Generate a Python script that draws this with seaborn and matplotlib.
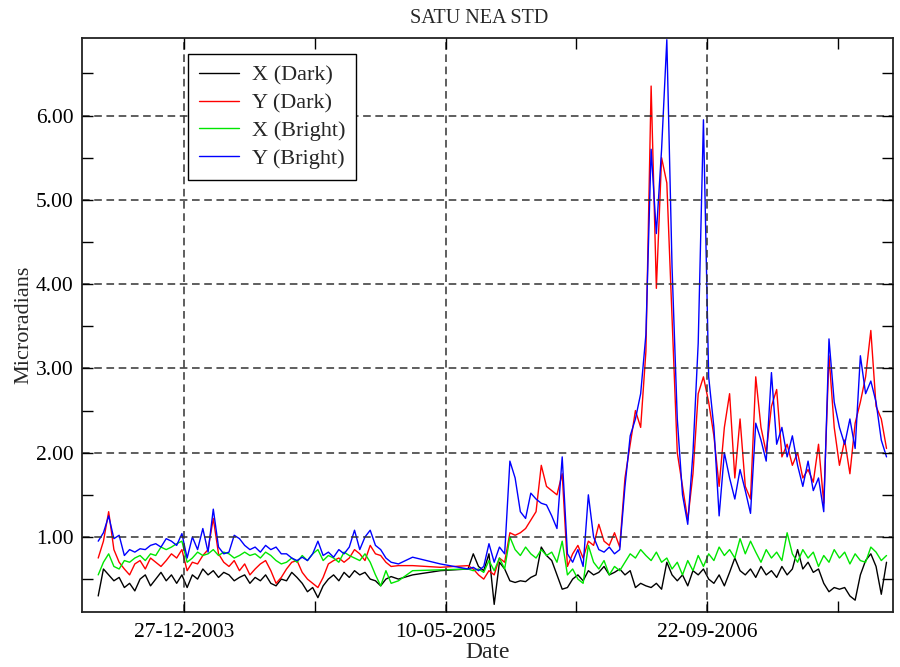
import matplotlib
matplotlib.use("Agg")
import matplotlib.pyplot as plt
import matplotlib.dates as mdates
import matplotlib.ticker as mticker
import numpy as np
import pandas as pd
import seaborn as sns

# ---------------------------------------------------------------------------
# Data: NEA standard deviation in microradians, sampled every 10 days,
# with a data gap in early 2005 bridged by three sparse samples.
# ---------------------------------------------------------------------------
START_A = "2003-07-16"
START_B = "2005-06-22"
STEP = "10D"
GAP_DATES = ["2005-02-09", "2005-03-08", "2005-04-30"]

X_DARK_A = [0.30, 0.62, 0.55, 0.48, 0.52, 0.40, 0.45, 0.36, 0.50, 0.55,
            0.42, 0.50, 0.58, 0.48, 0.55, 0.45, 0.55, 0.40, 0.55, 0.50,
            0.62, 0.55, 0.60, 0.52, 0.58, 0.55, 0.48, 0.52, 0.55, 0.45,
            0.52, 0.48, 0.55, 0.45, 0.42, 0.50, 0.48, 0.58, 0.52, 0.45,
            0.35, 0.40, 0.28, 0.42, 0.50, 0.55, 0.48, 0.58, 0.52, 0.60,
            0.55, 0.58, 0.50, 0.48, 0.42, 0.50, 0.53]
Y_DARK_A = [0.75, 0.95, 1.30, 0.85, 0.70, 0.62, 0.55, 0.68, 0.72, 0.62,
            0.75, 0.70, 0.65, 0.72, 0.80, 0.75, 0.85, 0.60, 0.70, 0.68,
            0.78, 0.85, 1.22, 0.80, 0.70, 0.65, 0.72, 0.60, 0.68, 0.55,
            0.62, 0.68, 0.72, 0.60, 0.45, 0.52, 0.62, 0.70, 0.72, 0.58,
            0.50, 0.45, 0.40, 0.52, 0.68, 0.72, 0.75, 0.70, 0.75, 0.85,
            0.80, 0.72, 0.90, 0.80, 0.78, 0.70, 0.65]
X_BRIGHT_A = [0.55, 0.70, 0.80, 0.65, 0.62, 0.72, 0.70, 0.75, 0.78, 0.72,
              0.80, 0.78, 0.88, 0.85, 0.88, 0.92, 0.95, 0.70, 0.75, 0.82,
              0.78, 0.80, 0.85, 0.78, 0.82, 0.80, 0.75, 0.78, 0.82, 0.78,
              0.80, 0.75, 0.82, 0.78, 0.72, 0.68, 0.70, 0.75, 0.70, 0.78,
              0.72, 0.80, 0.85, 0.72, 0.78, 0.75, 0.70, 0.82, 0.78, 0.75,
              0.72, 0.80, 0.70, 0.55, 0.42, 0.60, 0.45]
Y_BRIGHT_A = [0.95, 1.05, 1.25, 0.98, 1.02, 0.78, 0.85, 0.82, 0.86, 0.85,
              0.90, 0.92, 0.88, 0.98, 0.95, 0.90, 1.04, 0.75, 1.00, 0.85,
              1.10, 0.82, 1.33, 0.88, 0.80, 0.82, 1.02, 0.98, 0.90, 0.85,
              0.88, 0.82, 0.90, 0.85, 0.88, 0.80, 0.80, 0.75, 0.72, 0.76,
              0.72, 0.80, 0.95, 0.78, 0.82, 0.76, 0.85, 0.80, 0.88, 1.08,
              0.85, 1.00, 1.08, 0.90, 0.85, 0.75, 0.70]

X_DARK_GAP = [0.50, 0.55, 0.60]
Y_DARK_GAP = [0.66, 0.66, 0.64]
X_BRIGHT_GAP = [0.48, 0.60, 0.61]
Y_BRIGHT_GAP = [0.68, 0.76, 0.68]

X_DARK_B = [0.62, 0.80, 0.65, 0.60, 0.80, 0.20, 0.70, 0.62, 0.48, 0.46,
            0.48, 0.47, 0.52, 0.55, 0.88, 0.78, 0.72, 0.55, 0.38, 0.40,
            0.50, 0.55, 0.48, 0.60, 0.55, 0.58, 0.65, 0.55, 0.58, 0.62,
            0.55, 0.60, 0.40, 0.45, 0.42, 0.40, 0.45, 0.38, 0.70, 0.55,
            0.48, 0.55, 0.42, 0.60, 0.55, 0.62, 0.50, 0.45, 0.55, 0.42,
            0.58, 0.75, 0.60, 0.55, 0.62, 0.52, 0.65, 0.55, 0.60, 0.52,
            0.65, 0.55, 0.62, 0.85, 0.62, 0.70, 0.58, 0.62, 0.45, 0.35,
            0.40, 0.38, 0.40, 0.30, 0.25, 0.55, 0.72, 0.80, 0.65, 0.32,
            0.70]
Y_DARK_B = [0.66, 0.62, 0.55, 0.50, 0.60, 0.55, 0.75, 0.70, 1.05, 1.02,
            1.05, 1.10, 1.20, 1.30, 1.85, 1.60, 1.55, 1.50, 1.75, 0.65,
            0.80, 0.90, 0.75, 0.95, 0.90, 1.15, 0.95, 0.90, 1.05, 0.88,
            1.70, 2.10, 2.50, 2.30, 3.20, 6.35, 3.95, 5.50, 5.20, 3.60,
            2.00, 1.60, 1.20, 1.75, 2.70, 2.90, 2.60, 2.20, 1.60, 2.30,
            2.70, 1.70, 2.40, 1.60, 1.45, 2.90, 2.30, 2.00, 2.55, 2.75,
            1.95, 2.10, 1.85, 2.00, 1.70, 1.80, 1.65, 2.10, 1.40, 3.15,
            2.30, 1.85, 2.15, 1.75, 2.35, 2.60, 2.90, 3.45, 2.55, 2.40,
            2.05]
X_BRIGHT_B = [0.62, 0.60, 0.62, 0.58, 0.72, 0.60, 0.75, 0.62, 1.00, 0.85,
              0.78, 0.88, 0.80, 0.75, 0.85, 0.78, 0.82, 0.70, 0.95, 0.55,
              0.62, 0.50, 0.45, 0.90, 0.70, 0.62, 0.72, 0.55, 0.65, 0.60,
              0.70, 0.80, 0.75, 0.85, 0.78, 0.72, 0.82, 0.70, 0.75, 0.62,
              0.70, 0.55, 0.72, 0.60, 0.78, 0.65, 0.80, 0.72, 0.88, 0.78,
              0.85, 0.75, 0.98, 0.80, 0.95, 0.82, 0.70, 0.85, 0.75, 0.82,
              0.72, 1.05, 0.80, 0.70, 0.85, 0.75, 0.82, 0.65, 0.78, 0.70,
              0.85, 0.75, 0.82, 0.68, 0.80, 0.72, 0.70, 0.88, 0.82, 0.72,
              0.78]
Y_BRIGHT_B = [0.62, 0.64, 0.60, 0.65, 0.92, 0.70, 0.88, 0.80, 1.90, 1.70,
              1.30, 1.22, 1.52, 1.45, 1.40, 1.38, 1.25, 1.10, 1.95, 0.80,
              0.70, 0.85, 0.65, 1.50, 1.00, 0.85, 0.82, 0.88, 0.80, 0.85,
              1.60, 2.20, 2.40, 2.70, 3.40, 5.60, 4.60, 5.60, 6.90, 4.20,
              2.40, 1.50, 1.15, 2.00, 3.30, 5.95, 2.90, 2.30, 1.25, 2.00,
              1.70, 1.45, 1.80, 1.55, 1.28, 2.35, 2.15, 1.90, 2.95, 2.10,
              2.30, 1.95, 2.20, 1.85, 1.60, 1.90, 1.55, 1.70, 1.30, 3.35,
              2.60, 2.30, 2.10, 2.40, 2.05, 3.15, 2.70, 2.85, 2.60, 2.15,
              1.95]

SERIES = ["X (Dark)", "Y (Dark)", "X (Bright)", "Y (Bright)"]
COLORS = {"X (Dark)": "#000000", "Y (Dark)": "#ff0000",
          "X (Bright)": "#00e600", "Y (Bright)": "#0000ff"}
MAJOR_TICKS = ["2003-12-27", "2005-05-10", "2006-09-22"]
X_LIMITS = ["2003-06-15", "2007-09-12"]
Y_LIMITS = (0.11, 6.92)

# ---------------------------------------------------------------------------
# Assemble a long-form table
# ---------------------------------------------------------------------------
dates = (list(pd.date_range(START_A, periods=len(X_DARK_A), freq=STEP))
         + list(pd.to_datetime(GAP_DATES))
         + list(pd.date_range(START_B, periods=len(X_DARK_B), freq=STEP)))

values = {
    "X (Dark)": X_DARK_A + X_DARK_GAP + X_DARK_B,
    "Y (Dark)": Y_DARK_A + Y_DARK_GAP + Y_DARK_B,
    "X (Bright)": X_BRIGHT_A + X_BRIGHT_GAP + X_BRIGHT_B,
    "Y (Bright)": Y_BRIGHT_A + Y_BRIGHT_GAP + Y_BRIGHT_B,
}
df = pd.concat(
    [pd.DataFrame({"Date": dates, "Microradians": values[s], "series": s})
     for s in SERIES],
    ignore_index=True,
)

# ---------------------------------------------------------------------------
# Plot
# ---------------------------------------------------------------------------
sns.set_style("ticks")
plt.rcParams["font.family"] = ["Liberation Serif", "DejaVu Serif"]

fig = plt.figure(figsize=(9.0, 6.67), dpi=100)
ax = fig.add_axes([0.0911, 0.0825, 0.9009, 0.8605])

sns.lineplot(data=df, x="Date", y="Microradians", hue="series",
             hue_order=SERIES, palette=COLORS, estimator=None,
             linewidth=1.0, ax=ax)

ax.set_xlim(pd.to_datetime(X_LIMITS[0]), pd.to_datetime(X_LIMITS[1]))
ax.set_ylim(*Y_LIMITS)

major = pd.to_datetime(MAJOR_TICKS)
half = (major[1] - major[0]) / 2
minor = [m + half for m in major]
ax.set_xticks(major)
ax.set_xticks(minor, minor=True)
ax.xaxis.set_major_formatter(mdates.DateFormatter("%d-%m-%Y"))

ax.yaxis.set_major_locator(mticker.MultipleLocator(1.0))
ax.yaxis.set_minor_locator(mticker.MultipleLocator(0.5))
ax.yaxis.set_major_formatter(mticker.FormatStrFormatter("%.2f"))

ax.tick_params(which="both", direction="in", top=True, right=True,
               length=8, width=1.0, labelsize=15.5, colors="black")
ax.tick_params(axis="x", pad=8)
ax.tick_params(axis="y", pad=6)

ax.set_axisbelow(False)
ax.grid(True, which="major", linestyle=(0, (5, 3)), color="#333333",
        linewidth=1.1)

for sp in ax.spines.values():
    sp.set_color("#222222")
    sp.set_linewidth(1.3)

ax.set_title("SATU NEA STD", fontsize=14.5, pad=11, x=0.49)
ax.set_xlabel("Date", fontsize=17, labelpad=0)
ax.set_ylabel("Microradians", fontsize=16, labelpad=2)

leg = ax.legend(loc="upper left", bbox_to_anchor=(0.131, 0.972),
                fontsize=16, frameon=True, fancybox=False,
                edgecolor="black", framealpha=1.0, handlelength=1.8,
                handletextpad=0.55, borderpad=0.5, labelspacing=0.32,
                borderaxespad=0.0)
leg.get_frame().set_linewidth(1.0)
for line in leg.get_lines():
    line.set_linewidth(1.0)

fig.savefig("out.png", dpi=100)
